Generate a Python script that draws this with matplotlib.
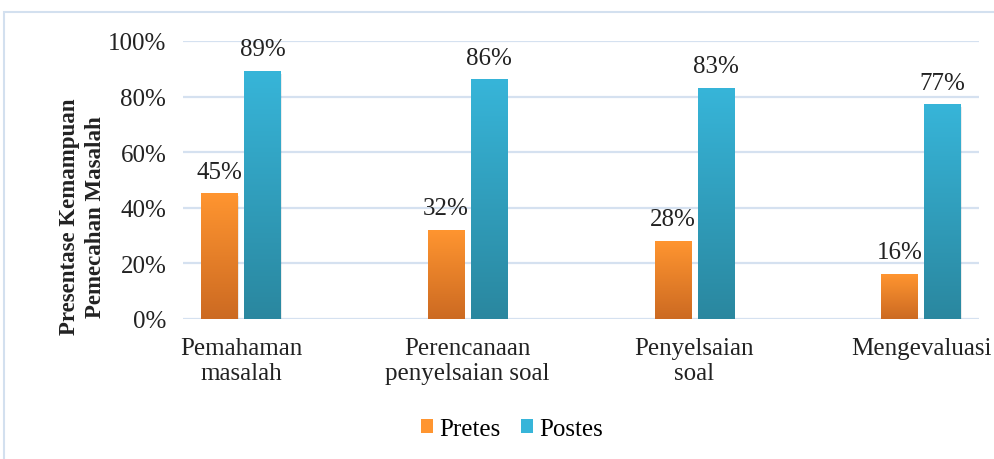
import numpy as np
import matplotlib.pyplot as plt
from matplotlib.patches import Rectangle
from matplotlib.colors import LinearSegmentedColormap

plt.rcParams['font.family'] = 'serif'
plt.rcParams['font.serif'] = ['Liberation Serif', 'DejaVu Serif']

CATEGORIES = ["Pemahaman\nmasalah", "Perencanaan\npenyelsaian soal",
              "Penyelsaian\nsoal", "Mengevaluasi"]
PRETES = [0.45, 0.32, 0.28, 0.16]
POSTES = [0.89, 0.86, 0.83, 0.77]
SERIES = ["Pretes", "Postes"]

ORANGE = ("#ff9530", "#cc6a22")
BLUE = ("#37b5d9", "#2a879f")

WIDTH = 0.16
OFFSET = 0.095
FS = 18


def gradient_bars(ax, xs, vals, colors):
    cmap = LinearSegmentedColormap.from_list("g", [colors[1], colors[0]])
    grad = np.linspace(0, 1, 256).reshape(-1, 1)
    for x, v in zip(xs, vals):
        # soft shadow under the bar
        ax.add_patch(Rectangle((x - WIDTH / 2 + 0.004, -0.008), WIDTH, v,
                               facecolor="#000000", alpha=0.08, lw=0, zorder=2))
        ax.imshow(grad, cmap=cmap, origin="lower", aspect="auto",
                  extent=(x - WIDTH / 2, x + WIDTH / 2, 0, v), zorder=3)
        ax.annotate("{:.0%}".format(v), (x, v), xytext=(0, 8),
                    textcoords="offset points", ha="center", va="bottom",
                    fontsize=FS, color="#222222")


fig = plt.figure(figsize=(9.94, 4.6), dpi=100)
ax = fig.add_axes([183 / 994, 1 - 320 / 460, (979 - 183) / 994, (320 - 42) / 460])

xs = np.arange(len(CATEGORIES))
gradient_bars(ax, xs - OFFSET, PRETES, ORANGE)
gradient_bars(ax, xs + OFFSET, POSTES, BLUE)

ax.set_xlim(-0.256, 3.256)
ax.set_ylim(0, 1.0)
ticks = np.arange(0, 1.01, 0.2)
ax.set_yticks(ticks)
ax.set_yticklabels(["{:.0%}".format(t) for t in ticks], fontsize=FS)
ax.set_xticks(xs)
ax.set_xticklabels(CATEGORIES, linespacing=1.15, fontsize=FS)
ax.tick_params(axis="both", length=0, colors="#222222")
ax.tick_params(axis="x", pad=13)
ax.tick_params(axis="y", pad=12)
ax.grid(axis="y", color="#d5e1f0", lw=1.6, zorder=0)
ax.set_axisbelow(True)
for s in ax.spines.values():
    s.set_visible(False)

ax.set_ylabel("Presentase Kemampuan\nPemecahan Masalah", fontsize=16.5,
              fontweight="bold", linespacing=1.3, color="#222222")
ax.yaxis.set_label_coords(-0.097, 0.37)

handles = [Rectangle((0, 0), 1, 1, facecolor=ORANGE[0]),
           Rectangle((0, 0), 1, 1, facecolor=BLUE[0])]
fig.legend(handles, SERIES, loc="center", bbox_to_anchor=(512 / 994, 1 - 430 / 460),
           ncol=2, frameon=False, fontsize=FS, handlelength=0.5, handleheight=0.5,
           handletextpad=0.25, columnspacing=0.8)

# outer chart frame
fig.patches.append(Rectangle((4 / 994, -0.1), 1.2, 1.1 - 13 / 460,
                             transform=fig.transFigure, fill=False,
                             edgecolor="#d3e0ef", lw=1.5))

fig.savefig("out.png", dpi=100)
